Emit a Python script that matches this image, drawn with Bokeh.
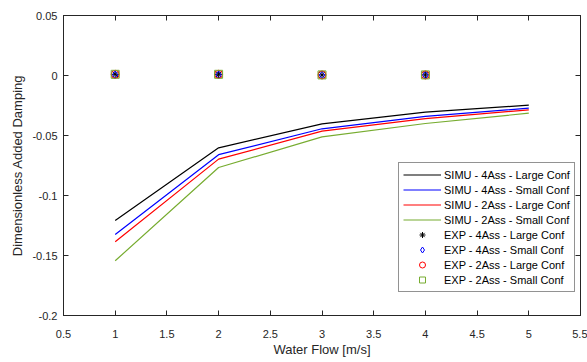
from bokeh.plotting import figure
from bokeh.models import (LinearAxis, FixedTicker, CustomJSTickFormatter, Legend,
                          LegendItem, Range1d)
from bokeh.embed import file_html
from bokeh.resources import INLINE

# ---- data ----
water_flow = [1, 2, 3, 4, 5]
simu_4ass_large = [-0.1208, -0.0603, -0.0403, -0.0306, -0.0247]
simu_4ass_small = [-0.1325, -0.0660, -0.0444, -0.0340, -0.0272]
simu_2ass_large = [-0.1386, -0.0697, -0.0464, -0.0360, -0.0286]
simu_2ass_small = [-0.1544, -0.0767, -0.0511, -0.0400, -0.0314]

exp_flow = [1, 2, 3, 4]
exp_4ass_large = [0.001, 0.001, 0.0005, 0.0005]
exp_4ass_small = [0.0005, 0.0005, 0.0003, 0.0003]
exp_2ass_large = [0.001, 0.001, 0.0005, 0.0005]
exp_2ass_small = [0.001, 0.001, 0.0005, 0.0005]

x_ticks = [0.5, 1, 1.5, 2, 2.5, 3, 3.5, 4, 4.5, 5, 5.5]
y_ticks = [-0.2, -0.15, -0.1, -0.05, 0, 0.05]

simu_labels = ["SIMU - 4Ass - Large Conf", "SIMU - 4Ass - Small Conf",
               "SIMU - 2Ass - Large Conf", "SIMU - 2Ass - Small Conf"]
exp_labels = ["EXP - 4Ass - Large Conf", "EXP - 4Ass - Small Conf",
              "EXP - 2Ass - Large Conf", "EXP - 2Ass - Small Conf"]

# ---- styles ----
FONT = "Liberation Sans"
AX = "#262626"
colors = ["#000000", "#0000FF", "#FF0000", "#77AC30"]
markers = ["asterisk", "diamond", "circle", "square"]

p = figure(width=587, height=362, output_backend="svg", toolbar_location=None,
           x_range=Range1d(0.5, 5.5), y_range=Range1d(-0.2, 0.05),
           min_border_left=63, min_border_right=7, min_border_top=15,
           min_border_bottom=47)
p.xgrid.visible = False
p.ygrid.visible = False
p.outline_line_color = AX
p.outline_line_width = 1
p.background_fill_color = "white"
p.border_fill_color = "white"

fmt = CustomJSTickFormatter(code="return String(Math.round(tick*1000)/1000);")
empty = CustomJSTickFormatter(code="return '';")

def style_axis(ax, ticks, formatter, standoff):
    ax.ticker = FixedTicker(ticks=ticks)
    ax.formatter = formatter
    ax.minor_tick_line_color = None
    ax.major_tick_in = 5
    ax.major_tick_out = 0
    ax.axis_line_color = AX
    ax.major_tick_line_color = AX
    ax.major_label_text_color = AX
    ax.major_label_text_font = FONT
    ax.major_label_text_font_size = "11px"
    ax.major_label_standoff = standoff
    ax.axis_label_text_font = FONT
    ax.axis_label_text_font_size = "13px"
    ax.axis_label_text_font_style = "normal"
    ax.axis_label_text_color = AX

xa = p.below[0]
ya = p.left[0]
style_axis(xa, x_ticks, fmt, 14)
style_axis(ya, y_ticks, fmt, 6)
xa.axis_label = "Water Flow [m/s]"
ya.axis_label = "Dimensionless Added Damping"
xa.axis_label_standoff = 1
ya.axis_label_standoff = 4

ra = LinearAxis()
style_axis(ra, y_ticks, empty, 0)
p.add_layout(ra, "right")
ta = LinearAxis()
style_axis(ta, x_ticks, empty, 0)
p.add_layout(ta, "above")

simu = [simu_4ass_large, simu_4ass_small, simu_2ass_large, simu_2ass_small]
exps = [exp_4ass_large, exp_4ass_small, exp_2ass_large, exp_2ass_small]

items = []
for ys, c, lab in zip(simu, colors, simu_labels):
    r = p.line(water_flow, ys, line_color=c, line_width=1.2)
    items.append(LegendItem(label=lab, renderers=[r]))
for ys, c, m, lab in zip(exps, colors, markers, exp_labels):
    r = p.scatter(exp_flow, ys, marker=m, size=8, line_color=c,
                  fill_color=None, line_width=1)
    items.append(LegendItem(label=lab, renderers=[r]))

legend = Legend(items=items, location=(335, 23))
legend.label_text_font = FONT
legend.label_text_font_size = "11px"
legend.label_text_color = "#000000"
legend.glyph_width = 38
legend.glyph_height = 15
legend.label_height = 15
legend.spacing = 0
legend.padding = 4
legend.margin = 0
legend.label_standoff = 3
legend.border_line_color = AX
legend.border_line_width = 1
legend.background_fill_color = "white"
legend.background_fill_alpha = 1
p.add_layout(legend)

open("out.html", "w").write(file_html(p, INLINE))
